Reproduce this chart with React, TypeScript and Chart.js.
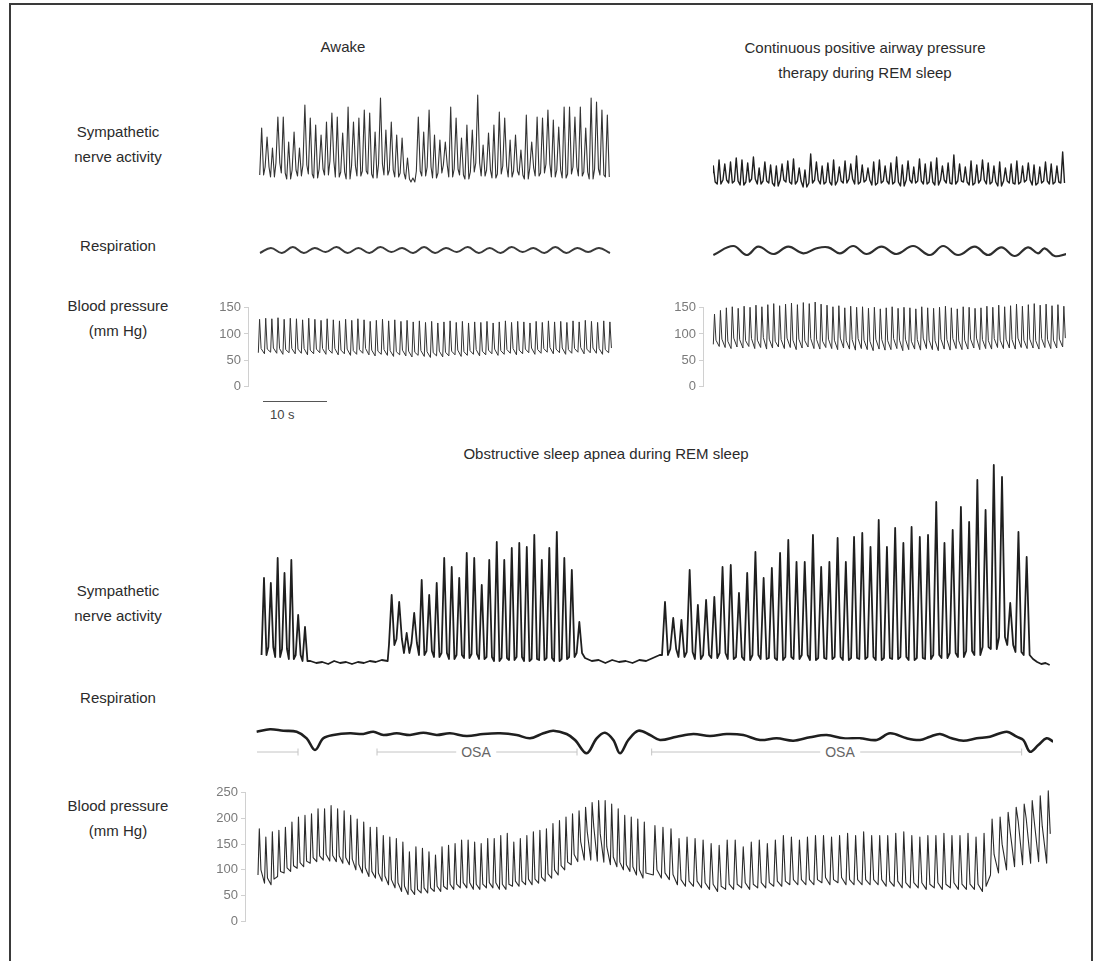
import React, { useEffect, useRef } from "react";
import { Chart, registerables } from "chart.js";

Chart.register(...registerables);

const FONT = "'Liberation Sans', Arial, Helvetica, sans-serif";
const INK = "#1f1f1f";

// ---------------- DATA ----------------
// Awake: sympathetic nerve activity bursts (arbitrary units)
const awakeSnaPeaks = [57,48,37,68,68,43,53,37,80,67,60,50,63,72,68,52,78,63,67,75,72,53,87,55,63,50,47,27,7,68,53,75,50,45,43,78,67,47,60,55,90,40,52,60,73,67,45,50,35,70,43,68,67,75,65,58,78,78,68,78,57,87,83,75,70];
const awakeSnaTroughs = [10,18,8,22,12,6,15,9,20,11,7,16,10,24,8,13,6,19,9,14,11,7,21,10,15,8,12,6,3,14,9,18,7,12,20,8,16,10,6,13,22,9,15,7,11,19,8,14,10,6,17,9,12,21,8,15,7,11,18,9,13,6,16,10,8];
const awakeResp = [12,17,12,18,12,17,13,18,12,17,12,18,13,17,12,18,12,17,13,18,12,17,12,18,13,17,12,18,12,17,13,17,12];
const awakeBpSys = [128,130,129,131,128,130,129,127,130,128,126,129,127,125,128,126,129,127,124,126,128,125,127,124,126,123,125,122,124,121,123,125,122,124,121,123,122,124,121,123,125,122,124,123,121,124,122,125,123,124,122,125,123,126,124,122,125,123];
const awakeBpDia = [64,62,65,63,61,64,62,63,60,62,64,61,63,60,62,59,61,63,60,58,61,59,57,60,58,56,59,57,55,58,56,58,60,57,59,61,58,60,62,59,61,63,60,62,64,61,63,65,62,64,61,63,65,62,64,63,61,64];
const awakeBpNotch = [72,71,73,72,70,72,71,72,69,71,72,70,72,69,71,68,70,72,69,67,70,68,66,69,67,65,68,66,64,67,65,67,69,66,68,70,67,69,71,68,70,72,69,71,73,70,72,74,71,73,70,72,74,71,73,72,70,73];

// CPAP during REM sleep
const cpapSnaPeaks = [24,30,26,28,32,30,27,33,22,28,25,24,26,29,31,22,20,36,28,24,27,30,23,29,26,34,25,22,28,30,24,27,33,25,29,23,31,26,28,32,24,27,35,26,23,29,25,30,27,24,28,22,26,29,24,27,25,23,28,26,24,38];
const cpapSnaTroughs = [8,6,10,7,9,5,8,11,6,9,7,4,10,8,6,9,3,7,10,6,8,5,9,7,11,6,8,10,5,7,9,6,8,4,10,7,9,6,8,5,10,7,6,9,8,5,7,10,6,8,4,9,7,6,8,10,5,7,9,6,8,7];
const cpapRespTimes = [0.05,3.05,5.05,6.8,9.05,11.3,13.55,15.55,17.3,19.05,21.05,23.05,25.3,27.55,30.05,32.55,34.55,36.8,39.3,41.3,43.3,45.3,47.3,48.8,49.8,51.3,53.05];
const cpapRespValues = [10,19,10,18.3,11,18.3,11.7,16.7,17.7,11.7,19,11,18.3,11,19,10,19,10,18.3,10,17.7,9,17.7,11.7,16.7,9,11];
const cpapBpSys = [138,145,150,152,149,153,151,155,152,156,158,154,157,159,156,160,158,161,157,155,152,154,150,153,151,152,149,151,148,150,152,149,151,150,148,152,150,149,151,153,150,148,152,151,149,150,153,151,155,152,154,157,153,156,158,155,157,154,156,153];
const cpapBpDia = [80,76,74,72,75,73,76,72,74,71,73,75,72,74,70,73,75,72,71,74,72,70,73,71,69,72,70,68,71,69,70,72,68,70,71,69,72,70,68,71,69,72,70,71,73,70,72,71,74,72,73,71,74,72,73,71,74,72,73,75];
const cpapBpNotch = [88,90,86,92,89,87,91,88,93,90,86,89,92,88,90,87,91,89,86,90,88,92,87,89,91,88,86,90,89,87,91,88,90,86,89,92,88,87,90,89,91,87,88,90,92,89,87,91,88,90,89,92,88,90,87,91,89,88,90,92];

// Obstructive sleep apnea during REM sleep
const osaSnaC1Peaks = [89,84,109,94,107,52,40];
const osaSnaC1Troughs = [12,20,10,18,8,12,6];
const osaSnaBaseA = [6,4,5,3,6,4,5,3,5,4,6,5,7,6];
const osaSnaC2Peaks = [72,65,34,54,87,72,84,109,100,89,114,109,82,107,125,107,119,124,120,132,107,119,135,109,97,45];
const osaSnaC2Troughs = [22,28,14,24,12,16,10,14,8,12,9,13,8,10,6,9,7,10,6,8,7,9,6,8,10,14];
const osaSnaBaseB = [9,6,7,4,7,5,6,4,7,6,9,12];
const osaSnaC3Peaks = [65,49,47,97,62,67,70,100,102,74,94,115,89,99,114,127,105,105,132,100,105,129,105,130,134,120,147,120,139,124,140,130,132,165,124,137,160,145,187,157,202,190,64,135,110];
const osaSnaC3Troughs = [12,18,10,15,8,12,9,14,8,10,7,12,8,9,7,10,8,12,7,9,8,10,7,9,8,10,7,9,8,10,7,9,8,12,9,14,10,16,12,20,18,30,22,15,12];
const osaSnaTail = [8,5,3,4,2];

const osaRespTimes = [0.55,2.55,4.55,6.55,8.05,9.3,10.55,12.05,14.55,16.55,18.05,19.55,21.55,23.55,25.55,27.55,29.55,32.05,34.55,37.05,39.55,41.55,43.55,45.05,47.05,48.3,50.05,51.55,52.8,54.05,55.05,56.3,57.8,59.55,61.05,63.55,66.05,68.55,71.05,73.55,76.05,78.55,81.05,83.55,86.05,88.55,91.05,93.55,95.55,98.05,100.05,101.55,103.05,104.8,106.55,108.55,110.55,113.05,114.55,115.55,116.55,117.8,119.05,120.05];
const osaRespValues = [28.3,30.7,29.3,28.3,21.7,10,21.7,25,26.7,26,28.3,25,26.7,25,27.3,25,26.7,24,26,26.7,25,21.7,26.7,29.3,26,20,6.7,21.7,27.3,20,6.7,20,29.3,25,20,23.3,26,24,26,25,20,21.7,19.3,22.7,25,21.7,21.7,20,26.7,21.7,20,23.3,26,21.7,19.3,21.7,23.3,28.3,23.3,20,8.3,15,21.7,18.3];
const osaMarkStarts = [0.6,18.6,59.8];
const osaMarkEnds = [6.75,48.6,115.3];
const osaMarkTicks = [6.75,18.6,48.6,59.8,115.3];

const osaBpSysA = [180,164,174,177,183,193,203,206,209,219,219,225,219,215,206,199,193,183,183,167,164,161,154,135,145,142,135,129,145,148,151,158,158,154,151,161,161,167,171,154,161,167,174,177,180,190,196,203,209,215,222,231,235,235,228,219,206,203,199,193];
const osaBpDiaA = [90,74,71,87,94,97,103,106,113,116,119,117,116,113,110,100,94,87,84,78,71,65,58,52,52,55,55,58,58,62,62,65,65,62,62,65,65,62,62,68,68,71,71,74,78,84,90,100,110,116,119,119,117,115,110,106,100,97,90,84];
const osaBpNotchA = [100,84,82,97,104,108,114,117,124,127,130,128,127,124,121,111,104,97,94,88,81,75,68,62,62,65,65,68,68,72,72,75,75,72,72,75,75,72,72,78,78,82,82,86,92,100,108,115,130,155,175,185,170,145,125,115,110,106,100,94];
const osaBpSysB = [186,183,180,161,164,161,158,151,148,158,158,145,154,158,151,158,167,164,158,164,167,167,164,167,171,167,174,167,167,167,171,174,167,164,167,167,171,167,167,171,164,171,199,203,212,222,228,235,244,254];
const osaBpDiaB = [90,84,81,71,68,68,65,62,58,62,62,65,62,65,65,68,68,71,71,71,71,75,71,75,71,71,71,71,71,68,68,65,65,65,62,65,62,65,62,62,62,58,90,94,100,106,110,113,116,113];
const osaBpNotchB = [100,94,91,81,78,78,75,72,68,72,72,75,72,75,75,78,78,81,81,81,81,85,81,85,81,81,81,81,81,78,78,75,75,75,72,75,72,75,72,72,72,68,130,150,175,195,200,195,185,170];

const bpTicksTop = [0, 50, 100, 150];
const bpTicksOsa = [0, 50, 100, 150, 200, 250];

// ---------------- helpers ----------------
type Pt = { x: number; y: number | null };

function spikeTrain(t0: number, t1: number, peaks: number[], troughs: number[], w: number): Pt[] {
  const n = peaks.length;
  const dt = n > 1 ? (t1 - t0) / (n - 1) : 1;
  const pts: Pt[] = [];
  for (let i = 0; i < n; i++) {
    const t = t0 + i * dt;
    pts.push({ x: t - w * dt, y: troughs[i] });
    pts.push({ x: t, y: peaks[i] });
    pts.push({ x: t + w * dt, y: troughs[i] });
  }
  return pts;
}

function evenSeries(t0: number, t1: number, values: number[]): Pt[] {
  const n = values.length;
  const dt = n > 1 ? (t1 - t0) / (n - 1) : 1;
  return values.map((v, i) => ({ x: t0 + i * dt, y: v }));
}

function zipSeries(times: number[], values: number[]): Pt[] {
  return times.map((t, i) => ({ x: t, y: values[i] }));
}

function beatTrain(t0: number, t1: number, sys: number[], dia: number[], notch: number[]): Pt[] {
  const n = sys.length;
  const dt = n > 1 ? (t1 - t0) / (n - 1) : 1;
  const pts: Pt[] = [];
  for (let i = 0; i < n; i++) {
    const t = t0 + i * dt;
    pts.push({ x: t, y: dia[i] });
    pts.push({ x: t + 0.2 * dt, y: sys[i] });
    pts.push({ x: t + 0.45 * dt, y: notch[i] });
  }
  return pts;
}

function markerSeries(starts: number[], ends: number[], ticks: number[], level: number, half: number): Pt[] {
  const pts: Pt[] = [];
  starts.forEach((s, i) => {
    pts.push({ x: s, y: level });
    pts.push({ x: ends[i], y: level });
    pts.push({ x: ends[i], y: null });
  });
  ticks.forEach((t) => {
    pts.push({ x: t, y: level - half });
    pts.push({ x: t, y: level + half });
    pts.push({ x: t, y: null });
  });
  return pts;
}

function ds(data: Pt[], color: string, width: number, tension = 0) {
  return {
    data,
    borderColor: color,
    borderWidth: width,
    pointRadius: 0,
    tension,
    fill: false,
    clip: false as any,
    spanGaps: false,
    borderJoinStyle: "round" as const,
  };
}

type AxisSpec = { ticks: number[] } | null;

function makeConfig(datasets: any[], xMin: number, xMax: number, yMin: number, yMax: number, axis: AxisSpec) {
  const yScale: any = axis
    ? {
        type: "linear",
        min: yMin,
        max: yMax,
        afterBuildTicks: (scale: any) => {
          scale.ticks = axis.ticks.map((v) => ({ value: v }));
        },
        afterFit: (scale: any) => {
          scale.width = 40;
        },
        ticks: {
          color: "#7a7a7a",
          font: { family: FONT, size: 13 },
          padding: 3,
        },
        grid: { display: true, drawOnChartArea: false, drawTicks: true, tickLength: 4, color: "#d0d0d0" },
        border: { display: true, color: "#d0d0d0", width: 1 },
      }
    : { type: "linear", min: yMin, max: yMax, display: false };
  return {
    type: "line" as const,
    data: { datasets },
    options: {
      responsive: false,
      maintainAspectRatio: false,
      animation: false as const,
      devicePixelRatio: 1,
      events: [] as any[],
      layout: { padding: axis ? { top: 10, bottom: 10, left: 0, right: 0 } : 0 },
      plugins: { legend: { display: false }, tooltip: { enabled: false }, title: { display: false } },
      elements: { point: { radius: 0 } },
      scales: {
        x: { type: "linear", min: xMin, max: xMax, display: false },
        y: yScale,
      },
    },
  };
}

function Trace(props: { left: number; top: number; width: number; height: number; config: () => any }) {
  const ref = useRef<HTMLCanvasElement | null>(null);
  useEffect(() => {
    if (!ref.current) return;
    const chart = new Chart(ref.current, props.config());
    return () => chart.destroy();
  }, []);
  return (
    <canvas
      ref={ref}
      width={props.width}
      height={props.height}
      style={{ position: "absolute", left: props.left, top: props.top, width: props.width, height: props.height }}
    />
  );
}

function Label(props: { x: number; y: number; text: string; size?: number; color?: string; bg?: boolean }) {
  return (
    <div
      style={{
        position: "absolute",
        left: props.x,
        top: props.y,
        transform: "translate(-50%, -50%)",
        whiteSpace: "pre",
        textAlign: "center",
        fontFamily: FONT,
        fontSize: props.size ?? 15,
        lineHeight: "25px",
        color: props.color ?? "#2b2b2b",
        background: props.bg ? "#fff" : "transparent",
        padding: props.bg ? "0 5px" : 0,
      }}
    >
      {props.text}
    </div>
  );
}

export default function App() {
  return (
    <div
      style={{
        position: "absolute",
        left: 0,
        top: 0,
        width: 1095,
        height: 961,
        background: "#fff",
        overflow: "hidden",
      }}
    >
      <div
        style={{
          position: "absolute",
          left: 9,
          top: 3,
          width: 1080,
          height: 1000,
          borderLeft: "2px solid #3a3a3a",
          borderTop: "2px solid #3a3a3a",
          borderRight: "2px solid #3a3a3a",
        }}
      />

      <Label x={343} y={46} text="Awake" />
      <Label x={865} y={59.5} text={"Continuous positive airway pressure\ntherapy during REM sleep"} />
      <Label x={118} y={144} text={"Sympathetic\nnerve activity"} />
      <Label x={118} y={245} text="Respiration" />
      <Label x={118} y={318} text={"Blood pressure\n(mm Hg)"} />
      <Label x={606} y={453} text="Obstructive sleep apnea during REM sleep" />
      <Label x={118} y={603} text={"Sympathetic\nnerve activity"} />
      <Label x={118} y={697} text="Respiration" />
      <Label x={118} y={818} text={"Blood pressure\n(mm Hg)"} />

      {/* Awake */}
      <Trace
        left={258}
        top={85}
        width={354}
        height={100}
        config={() =>
          makeConfig([ds(spikeTrain(0.55, 52.4, awakeSnaPeaks, awakeSnaTroughs, 0.36), "#333", 1.1)], 0, 53.1, 0, 100, null)
        }
      />
      <Trace
        left={258}
        top={235}
        width={354}
        height={30}
        config={() => makeConfig([ds(evenSeries(0.3, 52.8, awakeResp), "#3a3a3a", 2, 0.4)], 0, 53.1, 0, 30, null)}
      />
      <Trace
        left={208}
        top={297}
        width={404}
        height={100}
        config={() =>
          makeConfig([ds(beatTrain(0.05, 52.6, awakeBpSys, awakeBpDia, awakeBpNotch), "#333", 1)], -1.5, 53.1, 0, 150, {
            ticks: bpTicksTop,
          })
        }
      />
      <div style={{ position: "absolute", left: 263, top: 401, width: 64, height: 1, background: "#555" }} />
      <div
        style={{
          position: "absolute",
          left: 270,
          top: 407,
          fontFamily: FONT,
          fontSize: 13,
          color: "#444",
          lineHeight: "16px",
        }}
      >
        10 s
      </div>

      {/* CPAP */}
      <Trace
        left={713}
        top={140}
        width={353}
        height={50}
        config={() =>
          makeConfig([ds(spikeTrain(0.05, 52.5, cpapSnaPeaks, cpapSnaTroughs, 0.32), INK, 1.4)], 0, 53, 0, 50, null)
        }
      />
      <Trace
        left={713}
        top={235}
        width={353}
        height={30}
        config={() =>
          makeConfig([ds(zipSeries(cpapRespTimes, cpapRespValues), "#2e2e2e", 2.2, 0.4)], 0, 53, 0, 30, null)
        }
      />
      <Trace
        left={663}
        top={297}
        width={403}
        height={100}
        config={() =>
          makeConfig([ds(beatTrain(0.05, 52.5, cpapBpSys, cpapBpDia, cpapBpNotch), "#333", 1)], -1.5, 53, 0, 150, {
            ticks: bpTicksTop,
          })
        }
      />

      {/* OSA */}
      <Trace
        left={253}
        top={455}
        width={800}
        height={212}
        config={() => {
          const pts: Pt[] = [
            ...spikeTrain(1.65, 7.8, osaSnaC1Peaks, osaSnaC1Troughs, 0.36),
            ...evenSeries(8.6, 20.2, osaSnaBaseA),
            ...spikeTrain(20.8, 48.95, osaSnaC2Peaks, osaSnaC2Troughs, 0.36),
            ...evenSeries(49.8, 61.0, osaSnaBaseB),
            ...spikeTrain(61.8, 116.05, osaSnaC3Peaks, osaSnaC3Troughs, 0.36),
            ...evenSeries(117, 119.5, osaSnaTail),
          ];
          return makeConfig([ds(pts, INK, 1.8)], 0, 120, 0, 212, null);
        }}
      />
      <Trace
        left={253}
        top={715}
        width={800}
        height={45}
        config={() =>
          makeConfig(
            [
              ds(markerSeries(osaMarkStarts, osaMarkEnds, osaMarkTicks, 8, 3.5), "#c4c4c4", 1),
              ds(zipSeries(osaRespTimes, osaRespValues), "#1f1f1f", 2.6, 0.35),
            ],
            0,
            120,
            0,
            45,
            null
          )
        }
      />
      <Label x={476} y={752} text="OSA" size={14} color="#666" bg />
      <Label x={840} y={752} text="OSA" size={14} color="#666" bg />
      <Trace
        left={205}
        top={782}
        width={848}
        height={150}
        config={() =>
          makeConfig(
            [
              ds(
                [
                  ...beatTrain(0.75, 58.5, osaBpSysA, osaBpDiaA, osaBpNotchA),
                  ...beatTrain(60.05, 119.05, osaBpSysB, osaBpDiaB, osaBpNotchB),
                ],
                "#2a2a2a",
                1.1
              ),
            ],
            -1.2,
            120,
            0,
            250,
            { ticks: bpTicksOsa }
          )
        }
      />
    </div>
  );
}
